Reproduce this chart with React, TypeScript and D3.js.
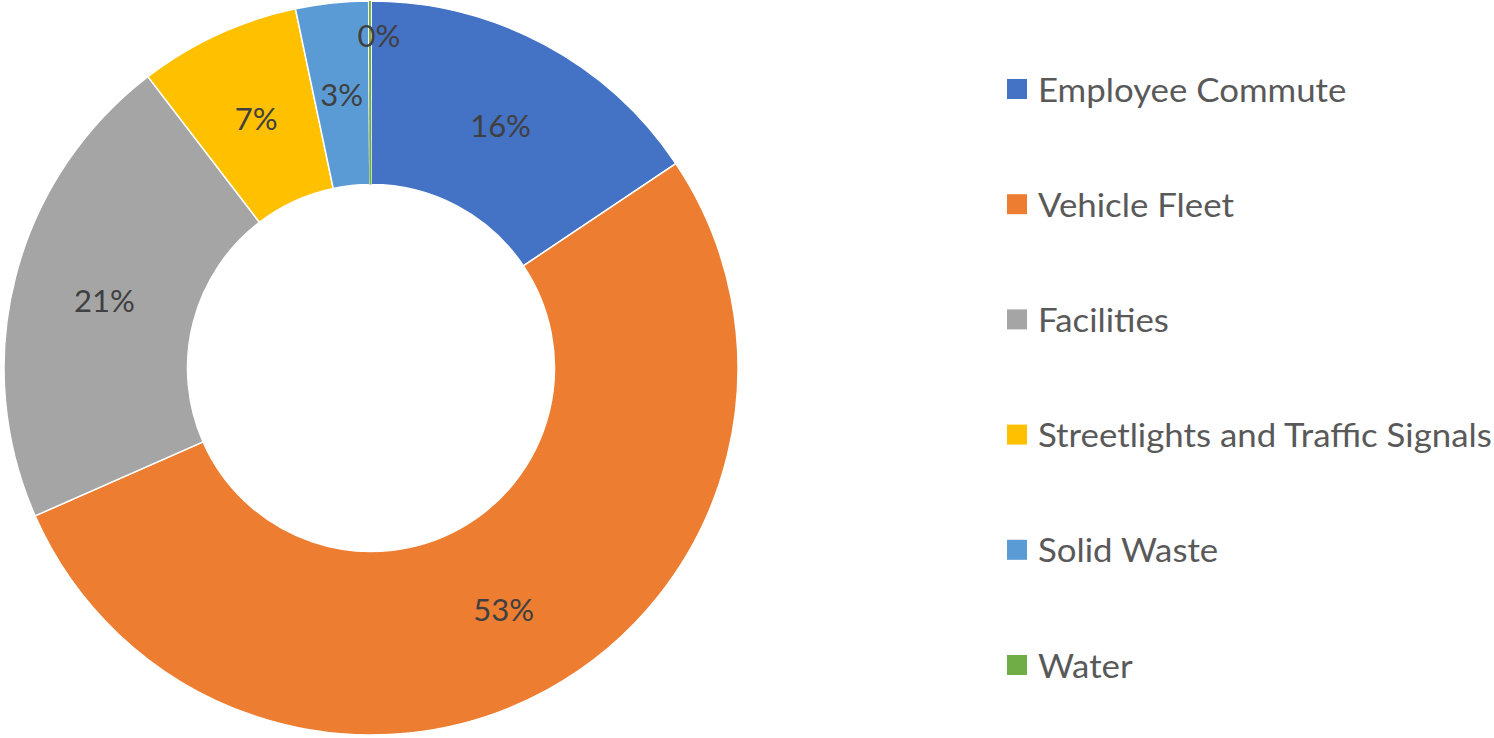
import React, { useEffect, useRef } from "react";
import * as d3 from "d3";

// chart data
const categories = [
  "Employee Commute",
  "Vehicle Fleet",
  "Facilities",
  "Streetlights and Traffic Signals",
  "Solid Waste",
  "Water",
];
const shares = [15.6, 52.8, 21.2, 7.1, 3.2, 0.1];
const colors = ["#4472C4", "#ED7D31", "#A5A5A5", "#FFC000", "#5B9BD5", "#70AD47"];

const App = () => {
  const svgRef = useRef<SVGSVGElement | null>(null);

  useEffect(() => {
    const width = 1494;
    const height = 738;
    const cx = 371;
    const cy = 368;
    const outerR = 367;
    const innerR = 183.5;
    const font = "Lato, 'Open Sans', sans-serif";

    const root = d3.select(svgRef.current);
    root.selectAll("*").remove();
    root.attr("width", width).attr("height", height);

    root.append("rect").attr("width", width).attr("height", height).attr("fill", "#fff");

    const rows = categories.map((c, i) => ({ name: c, value: shares[i], color: colors[i] }));

    const pie = d3
      .pie<any>()
      .sort(null)
      .value((d) => d.value);
    const arcs = pie(rows);

    const arc = d3.arc<any>().innerRadius(innerR).outerRadius(outerR);

    const g = root.append("g").attr("transform", `translate(${cx},${cy})`);

    g.selectAll("path.slice")
      .data(arcs)
      .enter()
      .append("path")
      .attr("class", "slice")
      .attr("d", arc)
      .attr("fill", (d) => d.data.color)
      .attr("stroke", "#fff")
      .attr("stroke-width", 1.5);

    // tiny slice: draw it as a visible sliver
    arcs
      .filter((d) => d.data.value < 1)
      .forEach((d) => {
        const a = (d.startAngle + d.endAngle) / 2;
        g.append("line")
          .attr("x1", innerR * Math.sin(a))
          .attr("y1", -innerR * Math.cos(a))
          .attr("x2", outerR * Math.sin(a))
          .attr("y2", -outerR * Math.cos(a))
          .attr("stroke", d.data.color)
          .attr("stroke-width", 2);
      });

    // percentage labels
    const midR = (innerR + outerR) / 2;
    g.selectAll("text.pct")
      .data(arcs)
      .enter()
      .append("text")
      .attr("class", "pct")
      .attr("text-anchor", "middle")
      .attr("dominant-baseline", "central")
      .attr("transform", (d) => {
        const a = (d.startAngle + d.endAngle) / 2;
        // small slices get pushed outward so they don't collide
        const r = d.data.value < 1 ? outerR - 34 : midR;
        const dx = d.data.value < 1 ? 9 : 0;
        return `translate(${r * Math.sin(a) + dx},${-r * Math.cos(a)})`;
      })
      .style("font-family", font)
      .style("font-size", "31px")
      .style("fill", "#404040")
      .text((d) => `${Math.round(d.data.value)}%`);

    // legend
    const legendY = d3
      .scalePoint<string>()
      .domain(categories)
      .range([89, 665]);

    const legend = root.append("g");
    const items = legend
      .selectAll("g.item")
      .data(rows)
      .enter()
      .append("g")
      .attr("class", "item")
      .attr("transform", (d) => `translate(1007,${legendY(d.name)})`);

    items
      .append("rect")
      .attr("x", 0)
      .attr("y", -10)
      .attr("width", 20)
      .attr("height", 20)
      .attr("fill", (d) => d.color);

    const labels = items
      .append("text")
      .attr("x", 0)
      .attr("y", 0)
      .attr("dominant-baseline", "central")
      .style("font-family", font)
      .style("font-size", "33px")
      .style("fill", "#595959")
      .text((d) => d.name);

    // squeeze text so the longest label ends where the reference does
    let maxW = 0;
    labels.each(function () {
      maxW = Math.max(maxW, (this as SVGTextElement).getComputedTextLength());
    });
    const k = maxW > 0 ? 454 / maxW : 1;
    labels.attr("transform", `translate(31,0) scale(${k},1)`);
  }, []);

  return (
    <div style={{ position: "fixed", left: 0, top: 0 }}>
      <svg ref={svgRef}></svg>
    </div>
  );
};

export default App;
